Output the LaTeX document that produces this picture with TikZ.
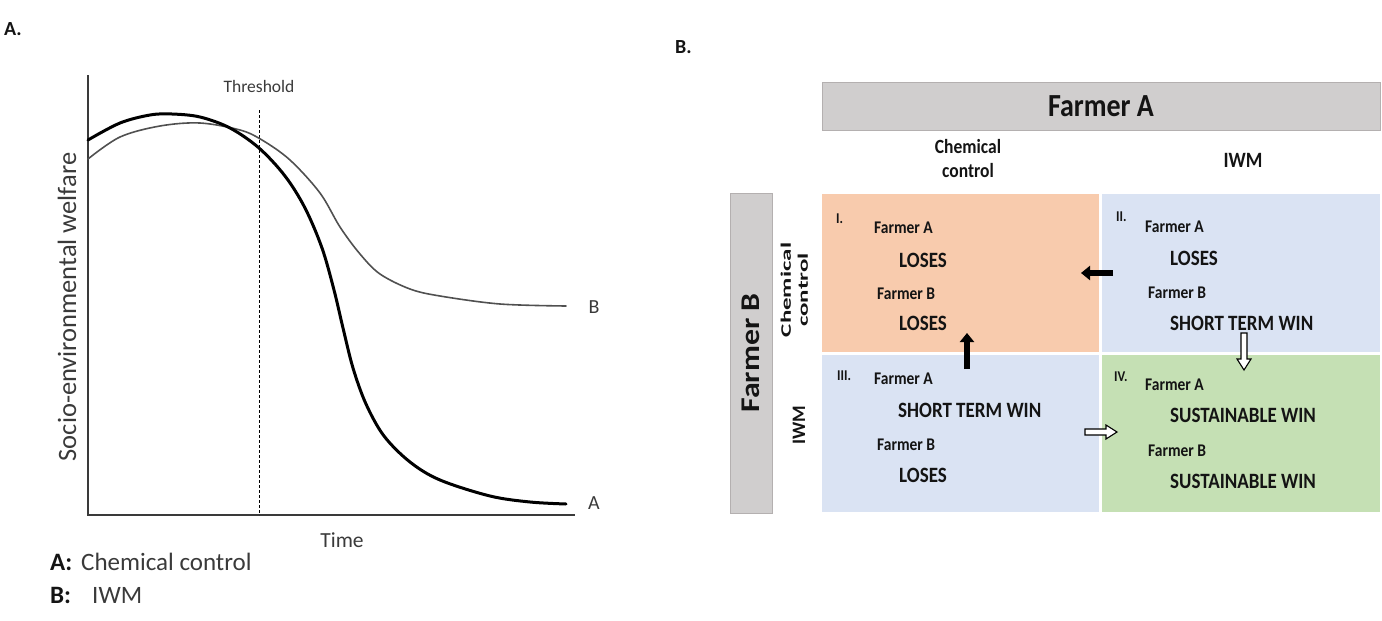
\documentclass[tikz,border=0pt]{standalone}
\usepackage{fontspec}
\setmainfont{Carlito}
\usetikzlibrary{arrows.meta,calc}
\definecolor{cOrange}{HTML}{F8CBAD}
\definecolor{cBlue}{HTML}{DAE3F3}
\definecolor{cGreen}{HTML}{C5E0B4}
\definecolor{cGrayBox}{HTML}{D0CECE}
\definecolor{cGrayLine}{HTML}{B4B0B0}
\definecolor{cText}{HTML}{141414}
\definecolor{cAxis}{HTML}{3A3A3A}
\definecolor{cCurveB}{HTML}{505050}
\newcommand{\vst}[1]{\scalebox{1}[1.15]{#1}}
\begin{document}
\begin{tikzpicture}[x=1pt,y=-1pt,
  txt/.style={inner sep=0pt, text=cText},
  cellsmall/.style={txt, anchor=west, font=\fontsize{15.5}{18}\selectfont\bfseries},
  cellbig/.style={txt, anchor=west, font=\fontsize{19}{22}\selectfont\bfseries},
  roman/.style={txt, anchor=west, font=\fontsize{13}{15}\selectfont\bfseries},
  cellbox/.style={rectangle, inner sep=0pt, draw=none},
  graybox/.style={rectangle, inner sep=0pt, fill=cGrayBox, draw=cGrayLine, line width=1pt},
  blkarrow/.style={line width=5.5pt, -{Triangle[length=9pt,width=14pt]}, black},
  hollowarrow/.style={draw=black, fill=white, line width=1.1pt, line join=miter},
  axisline/.style={draw=cAxis, line width=1.3pt},
  curveA/.style={draw=black, line width=3pt, line cap=round},
  curveB/.style={draw=cCurveB, line width=1.6pt, line cap=round},
]
\useasboundingbox (0,0) rectangle (1382,621);

% ---------------- Panel A ----------------
\node[txt, anchor=west, font=\fontsize{20}{24}\selectfont\bfseries] (panA) at (4,29) {A.};

\coordinate (ytop) at (88,75);
\coordinate (orig) at (88,515);
\coordinate (xend) at (575,515);
\draw[axisline] (ytop) -- (orig) -- (xend);

\coordinate (thT) at (259,110);
\coordinate (thB) at (259,515);
\draw[black, line width=1pt, dash pattern=on 3pt off 2pt] (thT) -- (thB);
\node[txt, font=\fontsize{17.5}{20}\selectfont, text=cAxis] (thr) at (259,86) {Threshold};

\draw[curveB] plot[smooth, tension=0.55] coordinates {
 (88,159) (120,137) (160,126) (200,123) (240,130) (262,140) (290,160)
 (320,193) (340,227) (360,254) (380,274) (410,289) (440,296) (500,304) (566,306)};
\draw[curveA] plot[smooth, tension=0.55] coordinates {
 (88,140) (120,123) (150,115) (172,114) (200,117) (230,128) (259,148)
 (285,176) (305,208) (322,248) (334,290) (343,328) (353,368) (366,404)
 (384,436) (410,462) (440,480) (490,496) (530,502) (566,504)};

\node[txt, font=\fontsize{20}{24}\selectfont, text=cAxis] (labB) at (594,307) {B};
\node[txt, font=\fontsize{20}{24}\selectfont, text=cAxis] (labA) at (594,503) {A};

\node[txt, font=\fontsize{21.5}{25}\selectfont, text=cAxis] (time) at (342,540) {Time};
\node[txt, rotate=90, font=\fontsize{26.5}{30}\selectfont, text=cAxis] (ylab) at (67,307) {Socio-environmental welfare};

\node[txt, anchor=west, font=\fontsize{25}{28}\selectfont\bfseries] (legA) at (50,562) {A:};
\node[txt, anchor=west, font=\fontsize{25}{28}\selectfont, text=cAxis] (legAt) at (81,562) {Chemical control};
\node[txt, anchor=west, font=\fontsize{25}{28}\selectfont\bfseries] (legB) at (50,595) {B:};
\node[txt, anchor=west, font=\fontsize{25}{28}\selectfont, text=cAxis] (legBt) at (92,595) {IWM};

% ---------------- Panel B ----------------
\node[txt, anchor=west, font=\fontsize{20}{24}\selectfont\bfseries] (panB) at (675,47) {B.};

\node[graybox, minimum width=558pt, minimum height=48pt] (hA) at (1101,106) {};
\node[txt, font=\fontsize{28}{32}\selectfont\bfseries] (hAt) at (hA) {\vst{Farmer A}};

\node[txt, font=\fontsize{17.5}{21.5}\selectfont\bfseries] (colCC) at (968,160.5)
  {\vst{\begin{tabular}{@{}c@{}}Chemical\\control\end{tabular}}};
\node[txt, font=\fontsize{19}{22}\selectfont\bfseries] (colIWM) at (1243,160) {\vst{IWM}};

\node[graybox, minimum width=42pt, minimum height=320pt] (hB) at (751,353) {};
\node[txt, rotate=90, font=\fontsize{27}{30}\selectfont\bfseries] (hBt) at (hB) {\scalebox{1.18}[1]{Farmer B}};

\node[txt, rotate=90, font=\fontsize{14.5}{17}\selectfont\bfseries] (rowCC) at (796,290)
  {\scalebox{1.72}[1]{\begin{tabular}{@{}c@{}}Chemical\\control\end{tabular}}};
\node[txt, rotate=90, font=\fontsize{19}{22}\selectfont\bfseries] (rowIWM) at (799,425) {IWM};

% cells
\node[cellbox, fill=cOrange, minimum width=277pt, minimum height=158pt] (c1) at (960.5,273) {};
\node[cellbox, fill=cBlue,   minimum width=278pt, minimum height=158pt] (c2) at (1241,273) {};
\node[cellbox, fill=cBlue,   minimum width=277pt, minimum height=157pt] (c3) at (960.5,433.5) {};
\node[cellbox, fill=cGreen,  minimum width=278pt, minimum height=157pt] (c4) at (1241,433.5) {};

% cell I
\node[roman] (r1) at (836,219) {\vst{I.}};
\node[cellsmall] (c1a) at (874,228) {\vst{Farmer A}};
\node[cellbig] (c1ao) at (899,260) {\vst{LOSES}};
\node[cellsmall] (c1b) at (877,294) {\vst{Farmer B}};
\node[cellbig] (c1bo) at (899,323) {\vst{LOSES}};
% cell II
\node[roman] (r2) at (1116,217) {\vst{II.}};
\node[cellsmall] (c2a) at (1145,227) {\vst{Farmer A}};
\node[cellbig] (c2ao) at (1170,258) {\vst{LOSES}};
\node[cellsmall] (c2b) at (1148,293) {\vst{Farmer B}};
\node[cellbig] (c2bo) at (1170,323) {\vst{SHORT TERM WIN}};
% cell III
\node[roman] (r3) at (837,376) {\vst{III.}};
\node[cellsmall] (c3a) at (874,379) {\vst{Farmer A}};
\node[cellbig] (c3ao) at (898,410) {\vst{SHORT TERM WIN}};
\node[cellsmall] (c3b) at (877,445) {\vst{Farmer B}};
\node[cellbig] (c3bo) at (899,475) {\vst{LOSES}};
% cell IV
\node[roman] (r4) at (1114,377) {\vst{IV.}};
\node[cellsmall] (c4a) at (1145,385) {\vst{Farmer A}};
\node[cellbig] (c4ao) at (1170,415) {\vst{SUSTAINABLE WIN}};
\node[cellsmall] (c4b) at (1148,451) {\vst{Farmer B}};
\node[cellbig] (c4bo) at (1170,481) {\vst{SUSTAINABLE WIN}};

% arrows between cells
\coordinate (aLs) at (1113,273);
\coordinate (aLe) at (1081,273);
\draw[blkarrow] (aLs) -- (aLe);
\coordinate (aUs) at (967,369);
\coordinate (aUe) at (967,333);
\draw[blkarrow] (aUs) -- (aUe);

\coordinate (aDs) at (1244,333);
\coordinate (aDe) at (1244,370);
\draw[hollowarrow] ($(aDs)+(-3,0)$) -- ($(aDe)+(-3,-11)$) -- ($(aDe)+(-7,-11)$) -- (aDe)
  -- ($(aDe)+(7,-11)$) -- ($(aDe)+(3,-11)$) -- ($(aDs)+(3,0)$) -- cycle;

\coordinate (aRs) at (1085,432);
\coordinate (aRe) at (1117,432);
\draw[hollowarrow] ($(aRs)+(0,-3)$) -- ($(aRe)+(-11,-3)$) -- ($(aRe)+(-11,-7)$) -- (aRe)
  -- ($(aRe)+(-11,7)$) -- ($(aRe)+(-11,3)$) -- ($(aRs)+(0,3)$) -- cycle;
\end{tikzpicture}
\end{document}
